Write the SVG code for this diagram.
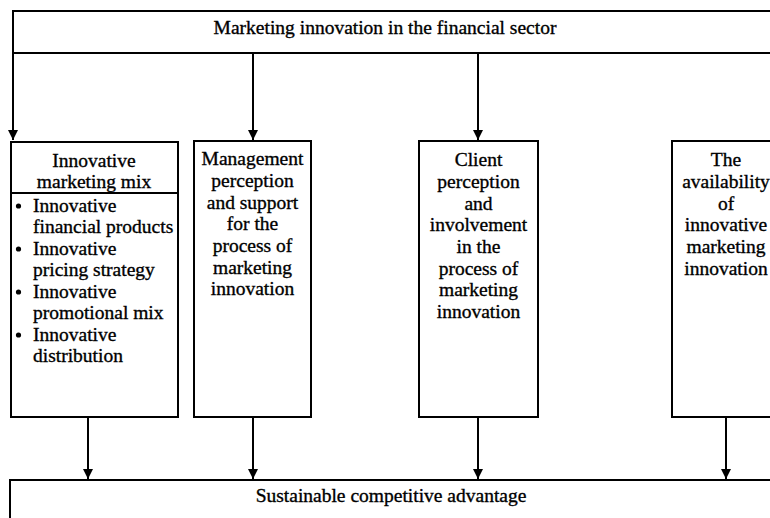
<svg xmlns="http://www.w3.org/2000/svg" width="770" height="518" viewBox="0 0 770 518">
<style>
  .box { fill: #ffffff; stroke: #000000; stroke-width: 2; }
  .conn { fill: none; stroke: #000000; stroke-width: 2; }
  text { font-family: "Liberation Serif", "Times New Roman", serif; font-size: 19.5px; fill: #000000; stroke: #000000; stroke-width: 0.35; }
  .c { text-anchor: middle; }
</style>
<defs>
  <marker id="arrow" markerUnits="userSpaceOnUse" markerWidth="12" markerHeight="10" refX="10" refY="5" orient="auto">
    <path d="M0,0 L10,5 L0,10 Z" fill="#000000"/>
  </marker>
</defs>
<rect width="770" height="518" fill="#ffffff"/>

<g id="top">
  <rect class="box" x="13" y="11" width="800" height="42"/>
  <text class="c" x="385" y="34">Marketing innovation in the financial sector</text>
</g>

<g id="mix">
  <rect class="box" x="11" y="142" width="167" height="275"/>
  <line x1="11" y1="193" x2="178" y2="193" stroke="#000" stroke-width="2"/>
  <text class="c" x="94" y="167">Innovative</text>
  <text class="c" x="94" y="188">marketing mix</text>
  <circle cx="18.5" cy="206" r="2.6" fill="#000"/>
  <text x="33" y="212">Innovative</text>
  <text x="33" y="233">financial products</text>
  <circle cx="18.5" cy="249" r="2.6" fill="#000"/>
  <text x="33" y="254.5">Innovative</text>
  <text x="33" y="276">pricing strategy</text>
  <circle cx="18.5" cy="292" r="2.6" fill="#000"/>
  <text x="33" y="297.5">Innovative</text>
  <text x="33" y="319">promotional mix</text>
  <circle cx="18.5" cy="335" r="2.6" fill="#000"/>
  <text x="33" y="341">Innovative</text>
  <text x="33" y="362">distribution</text>
</g>

<g id="management">
  <rect class="box" x="194" y="141" width="117" height="276"/>
  <text class="c" x="252.5" y="165">Management</text>
  <text class="c" x="252.5" y="187">perception</text>
  <text class="c" x="252.5" y="208.5">and support</text>
  <text class="c" x="252.5" y="230">for the</text>
  <text class="c" x="252.5" y="252">process of</text>
  <text class="c" x="252.5" y="273.5">marketing</text>
  <text class="c" x="252.5" y="295">innovation</text>
</g>

<g id="client">
  <rect class="box" x="419" y="141" width="119" height="276"/>
  <text class="c" x="478.5" y="166">Client</text>
  <text class="c" x="478.5" y="188">perception</text>
  <text class="c" x="478.5" y="209.5">and</text>
  <text class="c" x="478.5" y="231">involvement</text>
  <text class="c" x="478.5" y="253">in the</text>
  <text class="c" x="478.5" y="274.5">process of</text>
  <text class="c" x="478.5" y="296">marketing</text>
  <text class="c" x="478.5" y="317.5">innovation</text>
</g>

<g id="availability">
  <rect class="box" x="672" y="141" width="120" height="276"/>
  <text class="c" x="726" y="166">The</text>
  <text class="c" x="726" y="188">availability</text>
  <text class="c" x="726" y="209.5">of</text>
  <text class="c" x="726" y="231">innovative</text>
  <text class="c" x="726" y="253">marketing</text>
  <text class="c" x="726" y="274.5">innovation</text>
</g>

<g id="advantage">
  <rect class="box" x="10" y="480" width="800" height="60"/>
  <text class="c" x="391" y="502">Sustainable competitive advantage</text>
</g>

<g id="connectors">
  <line class="conn" x1="13" y1="53" x2="13" y2="140" marker-end="url(#arrow)"/>
  <line class="conn" x1="253" y1="53" x2="253" y2="140" marker-end="url(#arrow)"/>
  <line class="conn" x1="478" y1="53" x2="478" y2="140" marker-end="url(#arrow)"/>
  <line class="conn" x1="88" y1="417" x2="88" y2="479" marker-end="url(#arrow)"/>
  <line class="conn" x1="253" y1="417" x2="253" y2="479" marker-end="url(#arrow)"/>
  <line class="conn" x1="478" y1="417" x2="478" y2="479" marker-end="url(#arrow)"/>
  <line class="conn" x1="726" y1="417" x2="726" y2="479" marker-end="url(#arrow)"/>
</g>
</svg>
